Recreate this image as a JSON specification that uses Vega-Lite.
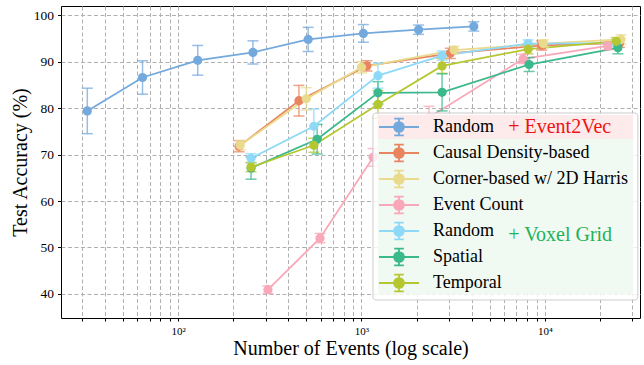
{
  "$schema": "https://vega.github.io/schema/vega-lite/v6.json",
  "width": 579,
  "height": 312,
  "autosize": {"type": "none"},
  "padding": {"left": 61, "top": 6, "right": 4, "bottom": 47},
  "background": "white",
  "config": {
    "view": {"stroke": "#000000", "strokeWidth": 1},
    "font": "Liberation Serif",
    "axis": {
      "labelFont": "Liberation Serif",
      "titleFont": "Liberation Serif",
      "titleFontWeight": "normal",
      "titleColor": "#000000",
      "labelColor": "#000000",
      "tickColor": "#000000",
      "domain": false,
      "grid": true,
      "gridDash": [4, 2.5],
      "gridColor": "#b0b0b0",
      "gridOpacity": 1,
      "gridWidth": 1
    }
  },
  "datasets": {
    "acc": [
      {"series": "Random (E2V)", "x": 32, "y": 79.4, "err": 4.9},
      {"series": "Random (E2V)", "x": 64, "y": 86.6, "err": 3.6},
      {"series": "Random (E2V)", "x": 128, "y": 90.3, "err": 3.2},
      {"series": "Random (E2V)", "x": 256, "y": 92.0, "err": 2.5},
      {"series": "Random (E2V)", "x": 512, "y": 94.8, "err": 2.6},
      {"series": "Random (E2V)", "x": 1024, "y": 96.1, "err": 1.9},
      {"series": "Random (E2V)", "x": 2048, "y": 96.9, "err": 1.0},
      {"series": "Random (E2V)", "x": 4096, "y": 97.6, "err": 1.0},
      {"series": "Causal Density-based", "x": 215, "y": 71.8, "err": 1.2},
      {"series": "Causal Density-based", "x": 456, "y": 81.6, "err": 3.3},
      {"series": "Causal Density-based", "x": 1070, "y": 89.1, "err": 1.1},
      {"series": "Causal Density-based", "x": 3050, "y": 91.8, "err": 1.1},
      {"series": "Causal Density-based", "x": 9600, "y": 93.5, "err": 1.0},
      {"series": "Causal Density-based", "x": 25500, "y": 94.0, "err": 0.9},
      {"series": "Corner-based w/ 2D Harris", "x": 218, "y": 72.0, "err": 1.0},
      {"series": "Corner-based w/ 2D Harris", "x": 500, "y": 82.0, "err": 2.4},
      {"series": "Corner-based w/ 2D Harris", "x": 1000, "y": 88.8, "err": 1.2},
      {"series": "Corner-based w/ 2D Harris", "x": 3200, "y": 92.5, "err": 0.8},
      {"series": "Corner-based w/ 2D Harris", "x": 9800, "y": 93.9, "err": 0.8},
      {"series": "Corner-based w/ 2D Harris", "x": 26000, "y": 94.8, "err": 1.0},
      {"series": "Event Count", "x": 309, "y": 40.9, "err": 0.8},
      {"series": "Event Count", "x": 594, "y": 52.0, "err": 1.0},
      {"series": "Event Count", "x": 1157, "y": 69.4, "err": 1.9},
      {"series": "Event Count", "x": 2333, "y": 78.0, "err": 2.4},
      {"series": "Event Count", "x": 7600, "y": 90.6, "err": 1.0},
      {"series": "Event Count", "x": 22000, "y": 93.4, "err": 0.8},
      {"series": "Random (VG)", "x": 250, "y": 69.2, "err": 1.0},
      {"series": "Random (VG)", "x": 550, "y": 76.1, "err": 3.7},
      {"series": "Random (VG)", "x": 1230, "y": 87.0, "err": 2.7},
      {"series": "Random (VG)", "x": 2750, "y": 91.3, "err": 1.0},
      {"series": "Random (VG)", "x": 8100, "y": 93.9, "err": 0.8},
      {"series": "Random (VG)", "x": 24500, "y": 94.0, "err": 0.8},
      {"series": "Spatial", "x": 250, "y": 67.1, "err": 2.4},
      {"series": "Spatial", "x": 573, "y": 73.3, "err": 3.2},
      {"series": "Spatial", "x": 1230, "y": 83.3, "err": 2.4},
      {"series": "Spatial", "x": 2750, "y": 83.4, "err": 4.0},
      {"series": "Spatial", "x": 8200, "y": 89.4, "err": 1.5},
      {"series": "Spatial", "x": 25000, "y": 93.0, "err": 1.3},
      {"series": "Temporal", "x": 250, "y": 67.3, "err": 1.0},
      {"series": "Temporal", "x": 550, "y": 72.0, "err": 1.5},
      {"series": "Temporal", "x": 1230, "y": 80.8, "err": 3.0},
      {"series": "Temporal", "x": 2750, "y": 89.1, "err": 1.6},
      {"series": "Temporal", "x": 8100, "y": 92.7, "err": 1.0},
      {"series": "Temporal", "x": 24500, "y": 94.4, "err": 0.8}
    ],
    "notes": [
      {"note": "+ Event2Vec", "group": "e2v"},
      {"note": "+ Voxel Grid", "group": "vg"}
    ]
  },
  "layer": [
    {
      "data": {"name": "acc"},
      "encoding": {
        "x": {
          "field": "x",
          "type": "quantitative",
          "scale": {"type": "log", "domain": [23, 33000], "nice": false},
          "axis": {
            "title": "Number of Events (log scale)",
            "titleFontSize": 20,
            "titlePadding": 2,
            "values": [30, 40, 50, 60, 70, 80, 90, 100, 200, 300, 400, 500, 600, 700, 800, 900, 1000, 2000, 3000, 4000, 5000, 6000, 7000, 8000, 9000, 10000, 20000, 30000],
            "labelExpr": "datum.value == 100 ? '10²' : datum.value == 1000 ? '10³' : datum.value == 10000 ? '10⁴' : ''",
            "labelFontSize": 11,
            "labelOverlap": false,
            "labelFlush": false,
            "labelPadding": 4,
            "tickSize": 3
          }
        },
        "y": {
          "field": "y",
          "type": "quantitative",
          "scale": {"domain": [34.8, 102], "nice": false, "zero": false},
          "axis": {
            "title": "Test Accuracy (%)",
            "titleFontSize": 20,
            "titlePadding": 3,
            "values": [40, 50, 60, 70, 80, 90, 100],
            "labelFontSize": 13.5,
            "labelPadding": 4,
            "tickSize": 3.5
          }
        }
      },
      "layer": [
        {
          "mark": {"type": "line", "strokeWidth": 1.8},
          "encoding": {
            "color": {
              "field": "series",
              "type": "nominal",
              "scale": {
                "domain": ["Random (E2V)", "Causal Density-based", "Corner-based w/ 2D Harris", "Event Count", "Random (VG)", "Spatial", "Temporal"],
                "range": ["#74a9dd", "#e8845f", "#e9da8c", "#f8a8b8", "#8fd9f8", "#3bb88c", "#b5c730"]
              },
              "legend": {
                "title": null,
                "orient": "none",
                "legendX": 317,
                "legendY": 112,
                "padding": 0,
                "rowPadding": 2,
                "symbolType": "M-1,0H4M1.5,-1.05V1.05M0.9,-1.05H2.1M0.9,1.05H2.1M2.12,0A0.62,0.62,0,1,1,0.88,0A0.62,0.62,0,1,1,2.12,0Z",
                "symbolSize": 256,
                "symbolStrokeWidth": 1.8,
                "labelFont": "Liberation Serif",
                "labelFontSize": 18,
                "labelColor": "#000000",
                "labelOffset": 37,
                "labelLimit": 300,
                "labelExpr": "indexof(datum.label, 'Random') == 0 ? 'Random' : datum.label",
                "encode": {
                  "symbols": {
                    "update": {
                      "fill": {"scale": "color", "field": "value"},
                      "stroke": {"scale": "color", "field": "value"},
                      "opacity": {"value": 1}
                    }
                  }
                }
              }
            },
            "detail": {"field": "series"}
          }
        },
        {
          "mark": {"type": "errorbar", "ticks": true, "size": 11, "thickness": 1.5, "opacity": 0.75},
          "encoding": {
            "yError": {"field": "err"},
            "color": {"field": "series", "type": "nominal"}
          }
        },
        {
          "mark": {"type": "point", "filled": true, "size": 85, "opacity": 1},
          "encoding": {
            "color": {"field": "series", "type": "nominal"}
          }
        }
      ]
    },
    {
      "data": {"name": "notes"},
      "transform": [{"filter": "datum.group == 'e2v'"}],
      "mark": {"type": "rect", "fill": "#ffffff", "fillOpacity": 0.8, "stroke": "#cccccc", "strokeWidth": 1, "cornerRadius": 3},
      "encoding": {
        "x": {"datum": 1155, "type": "quantitative"},
        "x2": {"datum": 32130},
        "y": {"datum": 78.95, "type": "quantitative"},
        "y2": {"datum": 38.68}
      }
    },
    {
      "data": {"name": "notes"},
      "transform": [{"filter": "datum.group == 'e2v'"}],
      "mark": {"type": "rect", "fill": "#fde8e9", "fillOpacity": 0.9},
      "encoding": {
        "x": {"datum": 1230, "type": "quantitative"},
        "x2": {"datum": 30170},
        "y": {"datum": 78.52, "type": "quantitative"},
        "y2": {"datum": 73.35}
      }
    },
    {
      "data": {"name": "notes"},
      "transform": [{"filter": "datum.group == 'vg'"}],
      "mark": {"type": "rect", "fill": "#eff8f2", "fillOpacity": 0.9},
      "encoding": {
        "x": {"datum": 1230, "type": "quantitative"},
        "x2": {"datum": 30170},
        "y": {"datum": 73.35, "type": "quantitative"},
        "y2": {"datum": 39.97}
      }
    },
    {
      "data": {"name": "notes"},
      "transform": [{"filter": "datum.group == 'e2v'"}],
      "mark": {"type": "text", "align": "left", "baseline": "middle", "font": "Liberation Serif", "fontSize": 20, "color": "#ee1414"},
      "encoding": {
        "x": {"datum": 6310, "type": "quantitative"},
        "y": {"datum": 75.94, "type": "quantitative"},
        "text": {"field": "note"}
      }
    },
    {
      "data": {"name": "notes"},
      "transform": [{"filter": "datum.group == 'vg'"}],
      "mark": {"type": "text", "align": "left", "baseline": "middle", "font": "Liberation Serif", "fontSize": 20, "color": "#1fb257"},
      "encoding": {
        "x": {"datum": 6310, "type": "quantitative"},
        "y": {"datum": 52.68, "type": "quantitative"},
        "text": {"field": "note"}
      }
    }
  ]
}
